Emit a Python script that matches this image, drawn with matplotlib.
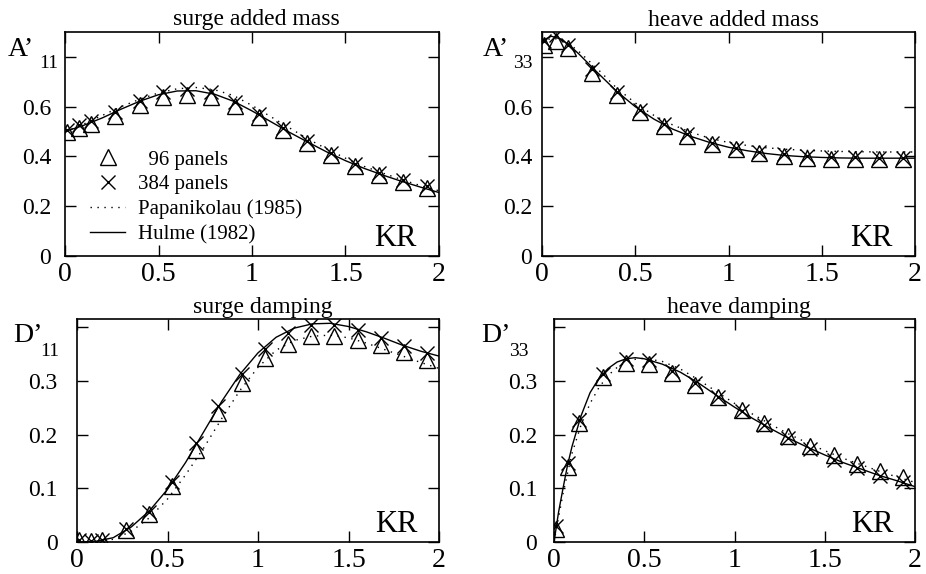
import matplotlib
matplotlib.use('Agg')
import matplotlib.pyplot as plt
from matplotlib.lines import Line2D

plt.rcParams['font.family'] = ['Liberation Serif', 'DejaVu Serif']

# KR values of the panel-method points (same in every panel)
kr_pts = [0.01, 0.075, 0.14, 0.27, 0.40, 0.525, 0.655, 0.78, 0.91, 1.04,
          1.165, 1.295, 1.42, 1.55, 1.68, 1.805, 1.935]

# surge added mass A'11
a11_96 = [0.500, 0.516, 0.530, 0.563, 0.607, 0.638, 0.647, 0.638, 0.604, 0.557,
          0.505, 0.453, 0.404, 0.361, 0.324, 0.297, 0.273]
a11_384 = [0.507, 0.526, 0.543, 0.580, 0.624, 0.658, 0.672, 0.658, 0.618, 0.570,
           0.516, 0.462, 0.412, 0.368, 0.334, 0.304, 0.280]
kr_a11 = [0.0, 0.1, 0.2, 0.3, 0.4, 0.5, 0.6, 0.7, 0.8, 0.9, 1.0,
          1.1, 1.2, 1.3, 1.4, 1.5, 1.6, 1.7, 1.8, 1.9, 2.0]
a11_hulme = [0.500, 0.525, 0.555, 0.590, 0.622, 0.648, 0.663, 0.664, 0.650, 0.622, 0.583,
             0.540, 0.497, 0.457, 0.418, 0.383, 0.352, 0.325, 0.300, 0.277, 0.255]
a11_papa = [0.500, 0.530, 0.565, 0.600, 0.630, 0.655, 0.672, 0.677, 0.668, 0.645, 0.605,
            0.560, 0.515, 0.470, 0.430, 0.393, 0.360, 0.333, 0.307, 0.283, 0.262]

# heave added mass A'33
a33_96 = [0.847, 0.864, 0.834, 0.736, 0.645, 0.577, 0.523, 0.482, 0.449, 0.428,
          0.412, 0.401, 0.395, 0.390, 0.390, 0.390, 0.390]
a33_384 = [0.864, 0.888, 0.847, 0.750, 0.658, 0.586, 0.530, 0.489, 0.455, 0.435,
           0.418, 0.408, 0.401, 0.397, 0.396, 0.395, 0.395]
kr_a33 = [0.0, 0.05, 0.1, 0.15, 0.2, 0.3, 0.4, 0.5, 0.6, 0.7, 0.8, 0.9, 1.0,
          1.1, 1.2, 1.3, 1.4, 1.5, 1.6, 1.7, 1.8, 1.9, 2.0]
a33_hulme = [0.865, 0.883, 0.872, 0.845, 0.810, 0.735, 0.662, 0.600, 0.550, 0.510, 0.480,
             0.456, 0.437, 0.423, 0.412, 0.404, 0.399, 0.396, 0.394, 0.393, 0.393,
             0.393, 0.393]
a33_papa = [0.860, 0.875, 0.870, 0.850, 0.820, 0.750, 0.675, 0.615, 0.565, 0.527, 0.497,
            0.473, 0.456, 0.444, 0.435, 0.429, 0.425, 0.422, 0.420, 0.419, 0.418,
            0.418, 0.418]

# surge damping D'11
d11_96 = [0.003, 0.002, 0.004, 0.022, 0.053, 0.104, 0.171, 0.240, 0.296, 0.342,
          0.369, 0.383, 0.383, 0.376, 0.367, 0.353, 0.338]
d11_384 = [0.003, 0.002, 0.004, 0.025, 0.056, 0.111, 0.184, 0.253, 0.313, 0.359,
           0.389, 0.403, 0.403, 0.394, 0.380, 0.364, 0.352]
kr_d11 = kr_a11
d11_hulme = [0.0, 0.001, 0.008, 0.028, 0.058, 0.098, 0.148, 0.205, 0.262, 0.312, 0.352,
             0.381, 0.398, 0.406, 0.407, 0.401, 0.391, 0.379, 0.366, 0.355, 0.346]
d11_papa = [0.0, 0.001, 0.005, 0.020, 0.045, 0.080, 0.125, 0.175, 0.230, 0.282, 0.325,
            0.357, 0.375, 0.383, 0.385, 0.380, 0.370, 0.358, 0.346, 0.334, 0.323]

# heave damping D'33
d33_96 = [0.025, 0.140, 0.221, 0.307, 0.333, 0.332, 0.314, 0.292, 0.269, 0.245,
          0.221, 0.198, 0.179, 0.162, 0.146, 0.133, 0.121]
d33_384 = [0.029, 0.147, 0.227, 0.313, 0.340, 0.338, 0.319, 0.296, 0.269, 0.243,
           0.218, 0.194, 0.173, 0.152, 0.137, 0.123, 0.112]
kr_d33 = [0.0, 0.025, 0.05, 0.075, 0.1, 0.15, 0.2, 0.25, 0.3, 0.35, 0.4, 0.45, 0.5,
          0.6, 0.7, 0.8, 0.9, 1.0, 1.1, 1.2, 1.3, 1.4, 1.5, 1.6, 1.7, 1.8, 1.9, 2.0]
d33_hulme = [0.0, 0.055, 0.100, 0.143, 0.178, 0.235, 0.278, 0.305, 0.323, 0.335, 0.341,
             0.343, 0.341, 0.331, 0.316, 0.296, 0.273, 0.251, 0.230, 0.211, 0.193,
             0.177, 0.162, 0.148, 0.136, 0.124, 0.114, 0.103]
d33_papa = [0.0, 0.045, 0.090, 0.128, 0.165, 0.218, 0.258, 0.288, 0.310, 0.325, 0.335,
            0.340, 0.342, 0.336, 0.322, 0.302, 0.280, 0.258, 0.238, 0.219, 0.201,
            0.185, 0.170, 0.156, 0.144, 0.132, 0.121, 0.111]

titles = ['surge added mass', 'heave added mass', 'surge damping', 'heave damping']
W, H = 926, 574
fig = plt.figure(figsize=(W / 100, H / 100), dpi=100)

dots = (0, (1, 4))


def px_axes(l, t, r, b):
    return fig.add_axes([l / W, 1 - b / H, (r - l) / W, (b - t) / H])


panels = [
    # box (l, t, r, b), data, ylim, yticks, ylabel, subscript, label x, y tick pad
    ((65, 32, 439, 256), (a11_96, a11_384, kr_a11, a11_hulme, a11_papa), 0.9,
     [0, 0.2, 0.4, 0.6, 0.8], ['0', '0.2', '0.4', '0.6', ''], 'A’', '11', (8, 39), 10),
    ((542, 32, 915, 256), (a33_96, a33_384, kr_a33, a33_hulme, a33_papa), 0.9,
     [0, 0.2, 0.4, 0.6, 0.8], ['0', '0.2', '0.4', '0.6', ''], 'A’', '33', (483, 513), 7),
    ((77, 319, 439, 542), (d11_96, d11_384, kr_d11, d11_hulme, d11_papa), 0.415,
     [0, 0.1, 0.2, 0.3, 0.4], ['0', '0.1', '0.2', '0.3', ''], 'D’', '11', (13, 40), 14),
    ((554, 319, 915, 542), (d33_96, d33_384, kr_d33, d33_hulme, d33_papa), 0.415,
     [0, 0.1, 0.2, 0.3, 0.4], ['0', '0.1', '0.2', '0.3', ''], 'D’', '33', (481, 509), 12),
]

axes = []
for i, (box, data, ytop, yt, ytl, lab, sub, labx, pad) in enumerate(panels):
    l, t, r, b = box
    ax = px_axes(l, t, r, b)
    p96, p384, krl, hul, pap = data
    ax.plot(krl, pap, color='black', lw=1.0, linestyle=dots)
    ax.plot(krl, hul, color='black', lw=1.0)
    ax.plot(kr_pts, p96, linestyle='none', marker='^', ms=12, mfc='none',
            mec='black', mew=1.0)
    ax.plot(kr_pts, p384, linestyle='none', marker='x', ms=10, color='black', mew=1.0)
    ax.set_xlim(0, 2)
    ax.set_ylim(0, ytop)
    ax.set_xticks([0, 0.5, 1, 1.5, 2])
    ax.set_xticklabels(['0', '0.5', '1', '1.5', '2'])
    ax.set_yticks(yt)
    ax.set_yticklabels(ytl)
    ax.tick_params(direction='in', top=True, right=True, length=8, width=1)
    ax.tick_params(axis='x', pad=4, labelsize=20)
    ax.tick_params(axis='y', pad=pad, labelsize=17)
    for s in ax.spines.values():
        s.set_linewidth(1.2)
    # title, y label with subscript, KR tag
    fig.text((l + r) / 2 / W + 0.005, 1 - (t - 12) / H, titles[i], ha='center',
             va='center', fontsize=17)
    fig.text(labx[0] / W, 1 - (t + 17) / H, lab, ha='left', va='center', fontsize=20)
    fig.text(labx[1] / W, 1 - (t + 32) / H, sub, ha='left', va='center', fontsize=14)
    ax.text(0.94, 0.045, 'KR', transform=ax.transAxes, ha='right', va='baseline',
            fontsize=22)
    axes.append(ax)

handles = [
    Line2D([], [], linestyle='none', marker='^', ms=12, mfc='none', mec='black', mew=1.0),
    Line2D([], [], linestyle='none', marker='x', ms=10, color='black', mew=1.0),
    Line2D([], [], color='black', lw=1.0, linestyle=dots),
    Line2D([], [], color='black', lw=1.0),
]
labels = ['  96 panels', '384 panels', 'Papanikolau (1985)', 'Hulme (1982)']
axes[0].legend(handles, labels, loc='upper left', bbox_to_anchor=(90 / W, 1 - 150 / H),
               bbox_transform=fig.transFigure, frameon=False, fontsize=15,
               handlelength=1.7, handletextpad=0.6, labelspacing=0.25, borderpad=0,
               borderaxespad=0)

fig.savefig('out.png', dpi=100)
